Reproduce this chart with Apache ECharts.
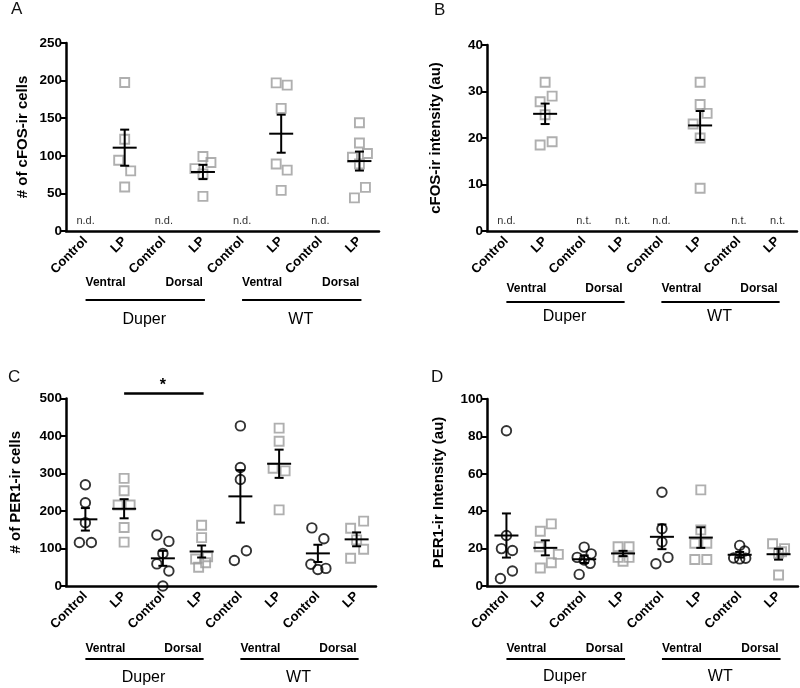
<!DOCTYPE html>
<html>
<head>
<meta charset="utf-8">
<script src="https://cdn.jsdelivr.net/npm/echarts@6/dist/echarts.min.js"></script>
<style>
  html, body { margin: 0; padding: 0; background: #fff; }
  #chart { width: 800px; height: 688px; }
</style>
</head>
<body>
<div id="chart"></div>
<script>
// ---------------- DATA ----------------
const categories = ['Control', 'LP', 'Control', 'LP', 'Control', 'LP', 'Control', 'LP'];
const genotypeNames = ['Duper', 'WT'];
const regionNames = ['Ventral', 'Dorsal'];
const panelLetters = ['A', 'B', 'C', 'D'];

// A: # of cFOS-ir cells
const cfosCells = [[], [197.5, 122, 94, 80, 58.5], [], [99, 91, 83, 76, 46], [], [197, 194, 163, 89, 81, 54], [], [144, 117, 103, 98, 89, 58, 44]];
const cfosCellsMean = [null, 110.8, null, 78.5, null, 129.4, null, 93];
const cfosCellsSem = [null, 24, null, 9.5, null, 25.3, null, 12.6];
const cfosCellsNotes = ['n.d.', '', 'n.d.', '', 'n.d.', '', 'n.d.', ''];

// B: cFOS-ir intensity (au)
const cfosInt = [[], [32, 29, 27.8, 25, 19.2, 18.5], [], [], [], [32, 27.2, 25.3, 23, 20, 9.2], [], []];
const cfosIntMean = [null, 25.2, null, null, null, 22.7, null, null];
const cfosIntSem = [null, 2.2, null, null, null, 3.1, null, null];
const cfosIntNotes = ['n.d.', '', 'n.t.', 'n.t.', 'n.d.', '', 'n.t.', 'n.t.'];

// C: # of PER1-ir cells
const per1Cells = [[270, 222, 169, 116, 116], [287, 254, 216, 216, 156, 117], [136, 119, 87, 59, 40, 0], [162, 129, 78, 72, 62, 50], [427, 316, 284, 94, 68], [421, 386, 314, 307, 203], [155, 126, 58, 47, 44], [173, 154, 123, 98, 74]];
const per1CellsMean = [177.8, 206, 73.8, 92, 239, 326, 87, 124.4];
const per1CellsSem = [30, 25.5, 20, 16, 70, 37.6, 23, 18.5];
const per1CellsNotes = ['', '', '', '', '', '', '', ''];
const per1CellsSig = [1, 3]; // '*' between LP ventral and LP dorsal (Duper)

// D: PER1-ir Intensity (au)
const per1Int = [[83, 27, 20, 19, 8, 4], [33.2, 29.3, 21, 16.9, 12.4, 9.6], [20.8, 17.2, 15.3, 13.9, 12.1, 6.2], [21, 21, 15.3, 15.3, 13.2], [50.1, 30.6, 23.5, 15.3, 11.9], [51.4, 30, 22.9, 22.9, 14.2, 14.2], [21.7, 18.7, 15, 14.5, 14.8], [22.6, 20, 18.3, 17.5, 5.9]];
const per1IntMean = [27, 20.4, 14.3, 17.4, 26.3, 25.9, 16.7, 17];
const per1IntSem = [11.8, 4, 2, 1.4, 6.6, 5.5, 1.5, 2.9];
const per1IntNotes = ['', '', '', '', '', '', '', ''];

// ---------------- LAYOUT / STYLE ----------------
// horizontal jitter (px) of each point, matching the reference scatter
const jitterA = [[], [0, 0, -6, 6, 0], [], [0, 8, -8, 0, 0], [], [-5, 6, 0, -5, 6, 0], [], [0, 0, 8, -7, 0, 6, -5]];
const jitterB = [[], [0, 7, -5, 0, 7, -5], [], [], [], [0, 0, 7, -7, 0, 0], [], []];
const jitterC = [[0, 0, 0, -6, 6], [0, 0, -6, 6, 0, 0], [-6, 6, 0, -6, 6, 0], [0, 0, 6, -6, 4, -3], [0, 0, 0, 6, -6], [0, 0, -6, 6, 0], [-6, 6, -7, 8, 0], [7, -6, 0, 7, -6]];
const jitterD = [[0, 0, -5, 6, 6, -6], [6, -5, -6, 13, 6, -5], [0, 7, -7, 0, 6, -5], [-5, 6, -5, 6, 0], [0, 0, 0, 6, -6], [0, 0, -6, 6, -6, 6], [0, 5, -6, 0, 6], [-6, 6, 3, 0, 0]];

const FONT = '"Liberation Sans", Arial, Helvetica, sans-serif';
const GRAY = '#9b9b9b';

const panels = [
  { values: cfosCells, mean: cfosCellsMean, sem: cfosCellsSem, notes: cfosCellsNotes, jitter: jitterA,
    grid: { left: 66, top: 43, width: 313, height: 188 }, max: 250, interval: 50,
    name: '# of cFOS-ir cells', nameGap: 36, sub: 52, line: 69, gname: 89,
    letter: { x: 11, y: 1 } },
  { values: cfosInt, mean: cfosIntMean, sem: cfosIntSem, notes: cfosIntNotes, jitter: jitterB,
    grid: { left: 487, top: 45, width: 310, height: 186 }, max: 40, interval: 10,
    name: 'cFOS-ir intensity (au)', nameGap: 44, sub: 58, line: 71, gname: 86,
    letter: { x: 434, y: 2 } },
  { values: per1Cells, mean: per1CellsMean, sem: per1CellsSem, notes: per1CellsNotes, jitter: jitterC,
    grid: { left: 66, top: 398.5, width: 310, height: 187.5 }, max: 500, interval: 100,
    name: '# of PER1-ir cells', nameGap: 43, sub: 63, line: 73, gname: 92, sig: per1CellsSig,
    letter: { x: 8, y: 369 } },
  { values: per1Int, mean: per1IntMean, sem: per1IntSem, notes: per1IntNotes, jitter: jitterD,
    grid: { left: 487, top: 399, width: 311, height: 187 }, max: 100, interval: 20,
    name: 'PER1-ir Intensity (au)', nameGap: 41, sub: 63, line: 73, gname: 91,
    letter: { x: 431, y: 369 } }
];

// ---------------- OPTION ----------------
const grids = [], xAxes = [], yAxes = [], series = [], graphics = [];

function meanRender(params, api) {
  const x = api.value(0), m = api.value(1), s = api.value(2);
  const c = api.coord([x, m]);
  const t = api.coord([x, m + s]);
  const b = api.coord([x, m - s]);
  const hw = 12, cw = 4.5;
  const st = { stroke: '#000', lineWidth: 2 };
  return { type: 'group', children: [
    { type: 'line', shape: { x1: c[0] - hw, y1: c[1], x2: c[0] + hw, y2: c[1] }, style: st },
    { type: 'line', shape: { x1: c[0], y1: t[1], x2: c[0], y2: b[1] }, style: st },
    { type: 'line', shape: { x1: c[0] - cw, y1: t[1], x2: c[0] + cw, y2: t[1] }, style: st },
    { type: 'line', shape: { x1: c[0] - cw, y1: b[1], x2: c[0] + cw, y2: b[1] }, style: st }
  ]};
}

panels.forEach((p, i) => {
  grids.push(Object.assign({ containLabel: false }, p.grid));
  xAxes.push({
    type: 'category', gridIndex: i, data: categories, boundaryGap: true,
    axisLine: { lineStyle: { color: '#000', width: 2.5 } },
    axisTick: { alignWithLabel: true, length: 5, lineStyle: { color: '#000', width: 2 } },
    axisLabel: { rotate: 45, margin: 8, color: '#000', fontFamily: FONT, fontWeight: 'bold', fontSize: 13, interval: 0 },
    splitLine: { show: false }
  });
  yAxes.push({
    type: 'value', gridIndex: i, min: 0, max: p.max, interval: p.interval,
    name: p.name, nameLocation: 'middle', nameRotate: 90, nameGap: p.nameGap,
    nameTextStyle: { color: '#000', fontFamily: FONT, fontWeight: 'bold', fontSize: 15 },
    axisLine: { show: true, lineStyle: { color: '#000', width: 2.5 } },
    axisTick: { show: true, length: 5, lineStyle: { color: '#000', width: 2 } },
    axisLabel: { color: '#000', fontFamily: FONT, fontWeight: 'bold', fontSize: 13.5, margin: 4 },
    splitLine: { show: false }
  });

  const circles = [], squares = [];
  p.values.forEach((arr, ci) => {
    arr.forEach((v, k) => {
      const item = { value: [ci, v], symbolOffset: [p.jitter[ci][k] || 0, 0] };
      (ci % 2 === 0 ? circles : squares).push(item);
    });
  });
  series.push({
    type: 'scatter', xAxisIndex: i, yAxisIndex: i, data: circles, symbol: 'circle', symbolSize: 9.5,
    itemStyle: { color: 'rgba(0,0,0,0)', borderColor: '#000', borderWidth: 1.9 }, silent: true, z: 2
  });
  series.push({
    type: 'scatter', xAxisIndex: i, yAxisIndex: i, data: squares, symbol: 'rect', symbolSize: 9,
    itemStyle: { color: 'rgba(0,0,0,0)', borderColor: GRAY, borderWidth: 1.9 }, silent: true, z: 2
  });

  const meanData = [];
  p.mean.forEach((m, ci) => { if (m !== null) meanData.push([ci, m, p.sem[ci]]); });
  series.push({ type: 'custom', xAxisIndex: i, yAxisIndex: i, data: meanData, renderItem: meanRender, z: 3, silent: true, clip: false });

  // n.d. / n.t. notes
  const noteData = [];
  p.notes.forEach((n, ci) => { if (n) noteData.push([ci, 0]); });
  const notes = p.notes;
  series.push({
    type: 'custom', xAxisIndex: i, yAxisIndex: i, data: noteData, silent: true, clip: false, z: 3,
    renderItem: (params, api) => {
      const c = api.coord([api.value(0), 0]);
      return { type: 'text', style: { text: notes[api.value(0)], x: c[0], y: c[1] - 10, align: 'center', verticalAlign: 'middle',
        fill: '#333', font: '11px ' + FONT } };
    }
  });

  // Genotype / region grouping under the axis
  const off = { sub: p.sub, line: p.line, gname: p.gname };
  series.push({
    type: 'custom', xAxisIndex: i, yAxisIndex: i, data: [[0, 3], [4, 7]], silent: true, clip: false, z: 3,
    renderItem: (params, api) => {
      const s = api.coord([api.value(0), 0]);
      const e = api.coord([api.value(1), 0]);
      const y0 = s[1];
      return { type: 'group', children: [
        { type: 'text', style: { text: regionNames[0], x: s[0], y: y0 + off.sub, align: 'left', verticalAlign: 'middle', fill: '#000', font: 'bold 12px ' + FONT } },
        { type: 'text', style: { text: regionNames[1], x: e[0], y: y0 + off.sub, align: 'right', verticalAlign: 'middle', fill: '#000', font: 'bold 12px ' + FONT } },
        { type: 'line', shape: { x1: s[0], y1: y0 + off.line, x2: e[0] + 2, y2: y0 + off.line }, style: { stroke: '#000', lineWidth: 2 } },
        { type: 'text', style: { text: genotypeNames[params.dataIndex], x: (s[0] + e[0]) / 2, y: y0 + off.gname, align: 'center', verticalAlign: 'middle', fill: '#000', font: '16px ' + FONT } }
      ]};
    }
  });

  if (p.sig) {
    const sig = p.sig, top = p.max;
    series.push({
      type: 'custom', xAxisIndex: i, yAxisIndex: i, data: [[sig[0], sig[1]]], silent: true, clip: false, z: 3,
      renderItem: (params, api) => {
        const s = api.coord([api.value(0), top]);
        const e = api.coord([api.value(1), top]);
        const y = s[1] - 5;
        return { type: 'group', children: [
          { type: 'line', shape: { x1: s[0], y1: y, x2: e[0] + 2, y2: y }, style: { stroke: '#000', lineWidth: 2.5 } },
          { type: 'text', style: { text: '*', x: (s[0] + e[0]) / 2, y: y - 8, align: 'center', verticalAlign: 'middle', fill: '#000', font: 'bold 16px ' + FONT } }
        ]};
      }
    });
  }

  graphics.push({ type: 'text', left: p.letter.x, top: p.letter.y, style: { text: panelLetters[i], fill: '#111', font: '17px ' + FONT } });
});

const chart = echarts.init(document.getElementById('chart'), null, { renderer: 'canvas' });
chart.setOption({
  animation: false,
  backgroundColor: '#fff',
  grid: grids, xAxis: xAxes, yAxis: yAxes, series: series, graphic: graphics
});
</script>
</body>
</html>
